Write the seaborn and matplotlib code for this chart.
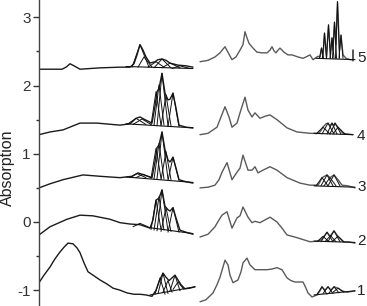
import numpy as np
import pandas as pd
import matplotlib
matplotlib.use("Agg")
import matplotlib.pyplot as plt
import seaborn as sns

# spectra 1..5, left band (black) and right band (grey), x in arbitrary channel units
left5_x = [39, 62, 66, 70, 74, 80, 100, 120, 130, 134, 137, 140, 143, 146, 150, 155, 158, 162, 166, 170, 178, 186, 193]
left5_y = [2.24, 2.24, 2.27, 2.32, 2.29, 2.24, 2.26, 2.27, 2.27, 2.32, 2.45, 2.60, 2.52, 2.42, 2.33, 2.35, 2.38, 2.39, 2.37, 2.33, 2.30, 2.29, 2.27]
left4_x = [39, 50, 63, 80, 97, 120, 130, 136, 140, 145, 152, 155, 157, 159, 162, 165, 168, 170, 173, 176, 179, 186, 193]
left4_y = [1.28, 1.32, 1.35, 1.45, 1.45, 1.42, 1.44, 1.52, 1.54, 1.50, 1.45, 1.70, 1.91, 1.96, 2.18, 1.89, 1.79, 1.80, 1.89, 1.67, 1.42, 1.39, 1.38]
left3_x = [39, 50, 63, 83, 100, 120, 132, 138, 144, 152, 155, 157, 159, 162, 165, 168, 170, 173, 176, 179, 186, 193]
left3_y = [0.50, 0.56, 0.62, 0.69, 0.67, 0.65, 0.67, 0.72, 0.69, 0.65, 0.88, 1.09, 1.13, 1.32, 1.06, 0.91, 0.88, 0.95, 0.79, 0.62, 0.59, 0.57]
left2_x = [39, 50, 67, 80, 93, 110, 120, 130, 140, 150, 153, 156, 159, 162, 165, 168, 170, 173, 176, 180, 186, 193]
left2_y = [-0.19, -0.07, 0.04, 0.10, 0.09, 0.04, -0.01, -0.03, -0.04, -0.09, 0.03, 0.32, 0.35, 0.47, 0.23, 0.18, 0.16, 0.21, 0.06, -0.12, -0.15, -0.18]
left1_x = [39, 44, 50, 55, 60, 64, 68, 73, 77, 80, 84, 88, 94, 100, 107, 113, 120, 127, 134, 140, 146, 152, 156, 160, 163, 166, 169, 172, 175, 178, 181, 185, 190, 195]
left1_y = [-0.89, -0.78, -0.66, -0.54, -0.44, -0.37, -0.31, -0.32, -0.38, -0.45, -0.60, -0.73, -0.79, -0.85, -0.91, -0.97, -1.00, -1.04, -1.06, -1.06, -1.07, -1.09, -1.00, -0.84, -0.75, -0.81, -0.86, -0.82, -0.78, -0.85, -0.92, -0.98, -0.97, -0.95]

right5_x = [200, 208, 215, 220, 225, 229, 232, 236, 240, 243, 245, 247, 249, 253, 257, 262, 267, 270, 272, 274, 276, 278, 280, 284, 288, 292, 298, 303, 306, 310, 313, 318,
            320, 321.5, 323, 324.5, 326.5, 328.5, 330.5, 332, 333, 334.5, 336, 337.5, 339.5, 341, 343, 346, 350, 353, 353, 353]
right5_y = [2.35, 2.37, 2.42, 2.48, 2.57, 2.46, 2.38, 2.42, 2.52, 2.60, 2.79, 2.70, 2.62, 2.55, 2.49, 2.48, 2.48, 2.52, 2.57, 2.51, 2.48, 2.52, 2.55, 2.49, 2.45, 2.45, 2.42, 2.40, 2.42, 2.45, 2.38, 2.43,
            2.42, 2.55, 2.42, 2.77, 2.42, 2.89, 2.45, 2.70, 2.52, 2.93, 2.60, 3.23, 2.52, 2.74, 2.45, 2.40, 2.38, 2.38, 2.52, 2.36]
right4_x = [200, 208, 217, 221, 225, 229, 232, 237, 240, 245, 248, 252, 255, 260, 265, 270, 277, 282, 287, 297, 310, 318, 320, 323, 326, 328, 330, 332, 334, 335, 338, 343, 348, 353]
right4_y = [1.28, 1.30, 1.39, 1.54, 1.69, 1.54, 1.39, 1.45, 1.60, 1.83, 1.64, 1.54, 1.60, 1.52, 1.55, 1.57, 1.50, 1.44, 1.38, 1.32, 1.30, 1.30, 1.32, 1.39, 1.44, 1.45, 1.41, 1.45, 1.41, 1.45, 1.39, 1.30, 1.29, 1.28]
right3_x = [200, 208, 215, 219, 222, 227, 232, 237, 240, 243, 248, 252, 255, 258, 263, 270, 277, 287, 300, 310, 318, 320, 322, 327, 330, 334, 338, 342, 348, 355]
right3_y = [0.50, 0.51, 0.54, 0.62, 0.73, 0.87, 0.62, 0.73, 0.79, 0.98, 0.76, 0.76, 0.81, 0.72, 0.76, 0.81, 0.76, 0.65, 0.57, 0.54, 0.54, 0.59, 0.65, 0.69, 0.65, 0.69, 0.62, 0.54, 0.53, 0.50]
right2_x = [200, 208, 215, 219, 222, 227, 232, 237, 240, 243, 248, 252, 255, 260, 265, 270, 277, 282, 287, 297, 310, 318, 321, 324, 327, 330, 334, 338, 343, 348, 355]
right2_y = [-0.22, -0.18, -0.07, 0.03, 0.10, 0.15, -0.09, 0.06, 0.09, 0.22, 0.07, -0.01, 0.01, -0.01, 0.03, 0.07, 0.00, -0.09, -0.19, -0.23, -0.29, -0.28, -0.26, -0.21, -0.15, -0.21, -0.13, -0.21, -0.29, -0.29, -0.31]
right1_x = [200, 206, 213, 217, 220, 223, 225, 228, 230, 233, 238, 241, 243, 247, 250, 255, 260, 267, 272, 277, 282, 287, 291, 295, 303, 306, 308, 312, 317,
            320, 322, 325, 328, 331, 334, 338, 342, 347, 355]
right1_y = [-1.17, -1.14, -1.04, -0.92, -0.81, -0.66, -0.56, -0.63, -0.78, -0.89, -0.85, -0.73, -0.60, -0.53, -0.63, -0.70, -0.70, -0.70, -0.69, -0.67, -0.70, -0.82, -0.86, -0.88, -0.88, -0.97, -1.04, -1.10, -1.07,
            -1.01, -0.95, -1.00, -0.95, -1.00, -0.95, -0.97, -1.01, -1.03, -1.01]

# fitted components: (start, centre, end, base, peak)
comps_left5 = [(132, 140, 149, 2.27, 2.60), (138, 144, 152, 2.27, 2.42), (148, 156, 164, 2.27, 2.35),
               (154, 162, 171, 2.26, 2.39), (162, 170, 180, 2.26, 2.33), (172, 180, 190, 2.25, 2.29)]
comps_left4 = [(127, 136, 146, 1.43, 1.52), (133, 142, 151, 1.43, 1.51), (151, 156, 161, 1.42, 1.91),
               (154, 159, 164, 1.42, 2.01), (157, 162, 168, 1.41, 2.18), (161, 166, 171, 1.41, 1.86), (168, 173, 179, 1.40, 1.89)]
comps_left3 = [(130, 137, 146, 0.65, 0.71), (136, 143, 151, 0.65, 0.70), (151, 156, 161, 0.64, 1.08),
               (154, 159, 164, 0.63, 1.15), (157, 162, 168, 0.63, 1.32), (161, 166, 171, 0.62, 1.03), (168, 173, 179, 0.61, 0.95)]
comps_left2 = [(133, 140, 148, -0.07, -0.02), (151, 156, 161, -0.11, 0.32), (154, 159, 164, -0.12, 0.37),
               (157, 162, 168, -0.13, 0.47), (161, 166, 171, -0.14, 0.21), (168, 173, 179, -0.15, 0.21)]
comps_left1 = [(155, 160, 165, -1.06, -0.82), (158, 163, 168, -1.05, -0.75), (163, 168, 172, -1.03, -0.86),
               (170, 175, 180, -1.01, -0.78), (173, 178, 184, -0.99, -0.88)]
comps_right5 = [(319.5, 321.5, 323.5, 2.40, 2.55), (322.5, 324.5, 326.5, 2.40, 2.77), (326.5, 328.5, 330.5, 2.40, 2.89),
                (330, 332, 334, 2.40, 2.70), (332.5, 334.5, 336.5, 2.40, 2.93), (335.5, 337.5, 339.5, 2.40, 3.23), (339, 341, 343, 2.40, 2.74)]
comps_right4 = [(316, 323, 330, 1.29, 1.39), (322, 328, 334, 1.29, 1.45), (327, 332, 337, 1.29, 1.45),
                (330, 335, 341, 1.29, 1.45), (333, 338, 345, 1.29, 1.39)]
comps_right3 = [(316, 322, 328, 0.53, 0.65), (321, 327, 333, 0.53, 0.69), (324, 330, 336, 0.53, 0.65), (328, 334, 340, 0.53, 0.69)]
comps_right2 = [(317, 323, 329, -0.29, -0.21), (321, 327, 333, -0.29, -0.15), (325, 330.5, 336, -0.29, -0.20),
                (328, 334, 340, -0.29, -0.13), (332, 338, 344, -0.29, -0.21)]
comps_right1 = [(317, 322, 327, -1.06, -0.95), (323, 328, 333, -1.05, -0.95), (329, 334, 339, -1.04, -0.95), (333, 338, 344, -1.03, -0.97)]

# straight fit baselines under the components: (x0, x1, y0, y1)
baselines = [(126, 193, 2.28, 2.25), (126, 193, 1.44, 1.38), (126, 193, 0.66, 0.58), (148, 193, -0.08, -0.17), (150, 195, -1.07, -0.95),
             (316, 355, 2.40, 2.38), (314, 353, 1.30, 1.28), (314, 355, 0.53, 0.51), (314, 355, -0.28, -0.30), (314, 355, -1.07, -1.01)]

labels = ["5", "4", "3", "2", "1"]
label_y = [2.40, 1.26, 0.51, -0.28, -1.01]

sns.set_style("ticks")
plt.rcParams["font.family"] = ["Liberation Sans", "DejaVu Sans"]
plt.rcParams["axes.unicode_minus"] = False

fig = plt.figure(figsize=(3.67, 3.06), dpi=100)
ax = fig.add_axes([39 / 367, 0, 1 - 39 / 367, 1])

left = [(left5_x, left5_y), (left4_x, left4_y), (left3_x, left3_y), (left2_x, left2_y), (left1_x, left1_y)]
right = [(right5_x, right5_y), (right4_x, right4_y), (right3_x, right3_y), (right2_x, right2_y), (right1_x, right1_y)]
comps = [comps_left5, comps_left4, comps_left3, comps_left2, comps_left1,
         comps_right5, comps_right4, comps_right3, comps_right2, comps_right1]

for xs, ys in left:
    sns.lineplot(x=xs, y=ys, ax=ax, sort=False, estimator=None, color="#1a1a1a", lw=1.0)
for xs, ys in right:
    sns.lineplot(x=xs, y=ys, ax=ax, sort=False, estimator=None, color="#5a5a5a", lw=1.0)

for group in comps:
    for x0, xc, x1, b, p in group:
        sns.lineplot(x=[x0, xc, x1], y=[b, p, b], ax=ax, sort=False, estimator=None, color="#111111", lw=0.7)

for x0, x1, y0, y1 in baselines:
    sns.lineplot(x=[x0, x1], y=[y0, y1], ax=ax, sort=False, estimator=None, color="#111111", lw=0.8)

for lab, yy in zip(labels, label_y):
    ax.text(357, yy, lab, ha="left", va="center", fontsize=11, color="#222222", clip_on=False)

ax.set_xlim(39, 367)
ax.set_ylim(-1.232, 3.255)
ax.set_yticks([-1, 0, 1, 2, 3])
ax.set_yticks([-0.5, 0.5, 1.5, 2.5], minor=True)
ax.set_yticklabels(["-1", "0", "1", "2", "3"])
ax.set_xticks([])
ax.tick_params(axis="y", which="major", length=4, width=1, labelsize=11, colors="#333333", pad=2)
ax.tick_params(axis="y", which="minor", length=2.5, width=1, colors="#333333")
ax.set_ylabel("Absorption", fontsize=11.5, color="#222222")
ax.yaxis.set_label_coords(-0.073, 0.451)
for side in ["top", "right", "bottom"]:
    ax.spines[side].set_visible(False)
ax.spines["left"].set_color("#444444")
ax.spines["left"].set_linewidth(1.0)

fig.savefig("out.png", dpi=100)
